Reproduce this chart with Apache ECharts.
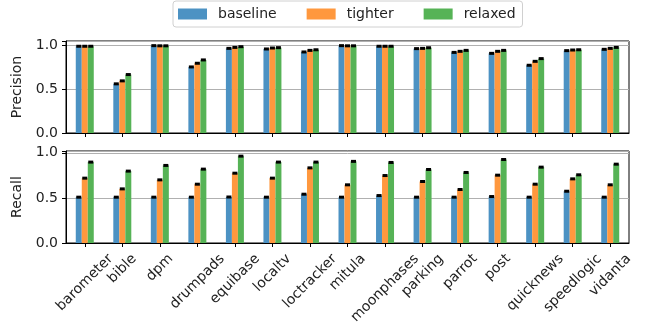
<!DOCTYPE html>
<html><head><meta charset="utf-8">
<script src="https://cdn.jsdelivr.net/npm/echarts@6/dist/echarts.min.js"></script>
<style>html,body{margin:0;padding:0;background:#fff}#c{width:646px;height:333px}</style>
</head><body><div id="c"></div>
<script>
const categories = ['barometer','bible','dpm','drumpads','equibase','localtv','loctracker','mitula','moonphases','parking','parrot','post','quicknews','speedlogic','vidanta'];
const seriesNames = ['baseline','tighter','relaxed'];
const precisionBaseline = [0.99,0.561,0.997,0.754,0.966,0.959,0.925,0.997,0.99,0.963,0.92,0.909,0.773,0.94,0.955];
const precisionTighter  = [0.99,0.595,0.995,0.796,0.977,0.970,0.943,0.995,0.99,0.966,0.932,0.932,0.818,0.947,0.966];
const precisionRelaxed  = [0.99,0.667,0.995,0.834,0.985,0.974,0.950,0.995,0.99,0.973,0.943,0.943,0.849,0.950,0.977];
const recallBaseline = [0.508,0.508,0.508,0.508,0.510,0.508,0.541,0.508,0.526,0.508,0.508,0.515,0.508,0.574,0.508];
const recallTighter  = [0.719,0.600,0.700,0.652,0.774,0.719,0.833,0.645,0.748,0.682,0.593,0.752,0.652,0.711,0.645];
const recallRelaxed  = [0.897,0.797,0.860,0.819,0.963,0.897,0.897,0.905,0.893,0.815,0.782,0.926,0.841,0.756,0.874];
const yTicks = [0, 0.5, 1.0];

const colors = ['#4c92c3','#ff983e','#56b356'];
const BAR_W = 6;
const FONT = 'DejaVu Sans';
const FS = 14;
const txt = '#222';

const precision = [precisionBaseline, precisionTighter, precisionRelaxed];
const recall = [recallBaseline, recallTighter, recallRelaxed];

// matplotlib-style 45° labels centred on their ticks
const ctx = document.createElement('canvas').getContext('2d');
ctx.font = FS + 'px "' + FONT + '"';
const TH = 16;
const rich = {};
categories.forEach((c, i) => {
  const w = ctx.measureText(c).width;
  const p = 1.414 * 0.3535 * (w + TH);
  rich['l' + i] = {fontFamily: FONT, fontSize: FS, color: txt, padding: [p, p, 0, 0]};
});

function yAxis(gi, name, max) {
  return {
    type: 'value', gridIndex: gi, min: 0, max: max, interval: 0.5,
    name: name, nameLocation: 'middle', nameGap: 38,
    nameTextStyle: {fontFamily: FONT, fontSize: FS, color: txt},
    axisLine: {show: true, lineStyle: {color: '#000', width: 1}},
    axisTick: {show: true, length: 4, lineStyle: {color: '#000'}},
    axisLabel: {fontFamily: FONT, fontSize: FS, color: txt, margin: 8,
      formatter: v => yTicks.some(t => Math.abs(t - v) < 1e-6) ? v.toFixed(1) : ''},
    splitLine: {show: true, lineStyle: {color: '#b0b0b0', width: 1}}
  };
}
function xAxis(gi, showLabels) {
  return {
    type: 'category', gridIndex: gi, data: categories,
    axisLine: {show: true, lineStyle: {color: '#000', width: 1}},
    axisTick: {show: true, alignWithLabel: true, length: 4, lineStyle: {color: '#000'}},
    axisLabel: {show: showLabels, rotate: 45, interval: 0, margin: 8,
      align: 'center', verticalAlign: 'middle',
      fontFamily: FONT, fontSize: FS, color: txt,
      formatter: (v, i) => '{l' + i + '|' + v + '}', rich: rich},
    splitLine: {show: false}
  };
}
const series = [];
[precision, recall].forEach((set, gi) => {
  set.forEach((vals, k) => {
    series.push({
      name: seriesNames[k], type: 'bar', xAxisIndex: gi, yAxisIndex: gi,
      data: vals, barWidth: BAR_W, barGap: '0%',
      itemStyle: {color: colors[k]}, emphasis: {disabled: true}
    });
  });
  const capData = [];
  set.forEach((vals, k) => vals.forEach((v, c) => capData.push([c, k, v])));
  series.push({
    type: 'custom', xAxisIndex: gi, yAxisIndex: gi, data: capData, z: 5,
    encode: {x: 0, y: 2},
    renderItem: (params, api) => {
      const c = api.value(0), k = api.value(1), v = api.value(2);
      const p = api.coord([c, v]);
      const x = p[0] + (k - 1) * BAR_W;
      return {type: 'rect', shape: {x: x - 2.5, y: p[1] - 1.5, width: 5, height: 3}, style: {fill: '#000'}};
    }
  });
});

const chart = echarts.init(document.getElementById('c'), null, {renderer: 'canvas'});
chart.setOption({
  animation: false,
  backgroundColor: '#fff',
  legend: {
    data: seriesNames, left: 173, top: 1,
    padding: [6, 7, 6, 5], itemGap: 30, itemWidth: 29, itemHeight: 11,
    borderColor: '#d0d0d0', borderWidth: 1, borderRadius: 3,
    textStyle: {fontFamily: FONT, fontSize: FS, color: txt, padding: [0, 0, 0, 6]},
    icon: 'rect'
  },
  grid: [
    {left: 66, right: 17, top: 41, height: 92, show: true, borderColor: '#000', borderWidth: 1},
    {left: 66, right: 17, top: 151, height: 92, show: true, borderColor: '#000', borderWidth: 1}
  ],
  xAxis: [xAxis(0, false), xAxis(1, true)],
  yAxis: [yAxis(0, 'Precision', 1.05), yAxis(1, 'Recall', 1.02)],
  series: series
});
</script></body></html>
